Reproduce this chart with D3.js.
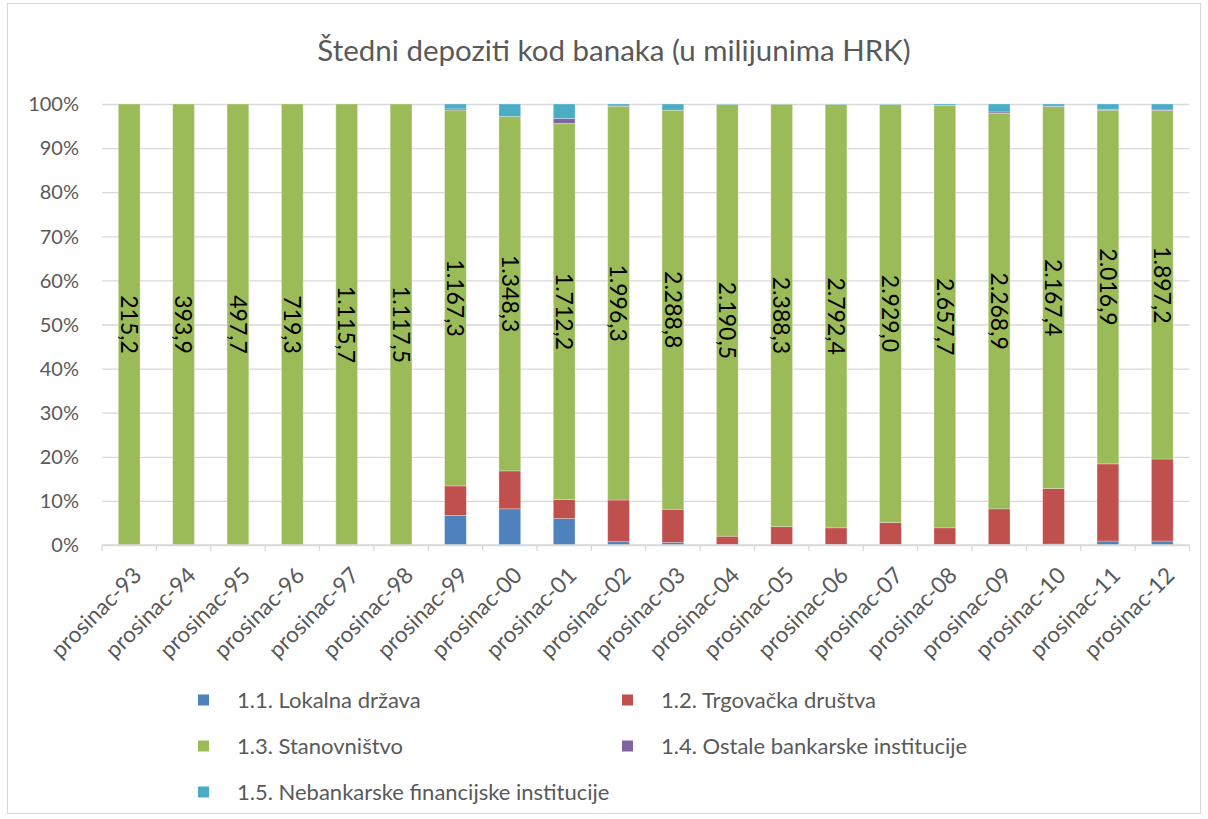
<html>

<head>
    <script src="https://d3js.org/d3.v7.min.js"></script>
    <style>
        body { margin: 0; background: #fff; }
        text { font-family: Lato, "Open Sans", sans-serif; }
    </style>
</head>

<body>
    <svg id="chart_svg" width="1208" height="819"></svg>
    <script>
        // categories (December of each year)
        const years = ["93", "94", "95", "96", "97", "98", "99", "00", "01", "02", "03", "04",
            "05", "06", "07", "08", "09", "10", "11", "12"];
        const categories = years.map(y => "prosinac-" + y);

        // series, millions HRK (green labels, the rest estimated from bar shares)
        const lokalnaDrzava = [0, 0, 0, 0, 0, 0, 91.8, 137.5, 120.4, 16.8, 15.2, 2.2, 2.5, 2.9, 3.1, 2.8, 2.5, 5.0, 22.6, 21.6];
        const trgovackaDrustva = [0, 0, 0, 0, 0, 0, 91.8, 144.2, 86.3, 211.3, 189.7, 42.5, 101.0, 110.5, 154.5, 105.4, 204.9, 315.4, 440.1, 446.7];
        const stanovnistvo = [215.2, 393.9, 497.7, 719.3, 1115.7, 1117.5, 1167.3, 1348.3, 1712.2, 1996.3, 2288.8, 2190.5,
            2388.3, 2792.4, 2929.0, 2657.7, 2268.9, 2167.4, 2016.9, 1897.2];
        const ostaleBankarske = [0, 0, 0, 0, 0, 0, 4.1, 0, 22.1, 1.1, 0, 0, 0, 0, 0, 0, 7.6, 2.5, 5.0, 3.6];
        const nebankarske = [0, 0, 0, 0, 0, 0, 15.1, 47.0, 66.2, 10.1, 35.4, 2.2, 1.2, 2.9, 3.1, 8.3, 45.5, 12.5, 30.2, 32.4];

        const seriesNames = ["1.1. Lokalna država", "1.2. Trgovačka društva", "1.3. Stanovništvo",
            "1.4. Ostale bankarske institucije", "1.5. Nebankarske financijske institucije"];
        const seriesColors = ["#4F81BD", "#C0504D", "#9BBB59", "#8064A2", "#4BACC6"];
        const yTicks = [0, 0.1, 0.2, 0.3, 0.4, 0.5, 0.6, 0.7, 0.8, 0.9, 1];

        const keys = ["s0", "s1", "s2", "s3", "s4"];
        const table = categories.map((c, i) => ({
            cat: c,
            s0: lokalnaDrzava[i],
            s1: trgovackaDrustva[i],
            s2: stanovnistvo[i],
            s3: ostaleBankarske[i],
            s4: nebankarske[i]
        }));

        const svg = d3.select("#chart_svg");
        const margins = { "top": 104, "right": 18.5, "bottom": 274, "left": 102 };
        const chartWidth = 1208 - margins.left - margins.right;
        const chartHeight = 819 - margins.top - margins.bottom;
        const grey = "#595959";

        // outer chart border
        svg.append("rect")
            .attr("x", 7.5).attr("y", 3.5)
            .attr("width", 1193).attr("height", 810)
            .attr("fill", "none")
            .attr("stroke", "#d9d9d9");

        svg.append("text")
            .attr("x", 614)
            .attr("y", 61)
            .attr("text-anchor", "middle")
            .attr("font-size", 29.5)
            .attr("fill", grey)
            .text("Štedni depoziti kod banaka (u milijunima HRK)");

        const xScale = d3.scaleBand().domain(categories).range([0, chartWidth]).paddingInner(0.6).paddingOuter(0.3);
        const yScale = d3.scaleLinear().domain([0, 1]).range([chartHeight, 0]);

        const plot = svg.append("g")
            .attr("transform", "translate(" + margins.left + "," + margins.top + ")");

        // gridlines
        plot.append("g")
            .attr("class", "y gridlines")
            .call(d3.axisLeft(yScale).tickValues(yTicks).tickSize(-chartWidth).tickFormat(""))
            .call(g => g.select(".domain").remove())
            .call(g => g.selectAll("line").attr("stroke", "#d9d9d9").attr("stroke-width", 1.3));

        // y labels
        const pct = d3.format(".0%");
        plot.append("g")
            .selectAll("text")
            .data(yTicks)
            .join("text")
            .attr("x", 79 - margins.left)
            .attr("y", d => yScale(d))
            .attr("dy", "0.36em")
            .attr("text-anchor", "end")
            .attr("font-size", 20)
            .attr("fill", grey)
            .text(d => pct(d));

        // stacked 100% bars
        const stacked = d3.stack().keys(keys).offset(d3.stackOffsetExpand)(table);
        stacked.forEach((layer, li) => {
            plot.append("g")
                .attr("fill", seriesColors[li])
                .selectAll("rect")
                .data(layer)
                .join("rect")
                .attr("x", d => xScale(d.data.cat))
                .attr("width", xScale.bandwidth())
                .attr("y", d => yScale(d[1]))
                .attr("height", d => yScale(d[0]) - yScale(d[1]))
                .attr("stroke", "#ffffff")
                .attr("stroke-opacity", 0.35)
                .attr("stroke-width", 0.8);
        });

        // x axis with ticks between categories
        const edges = d3.range(categories.length + 1).map(i => i * chartWidth / categories.length);
        const axisG = plot.append("g").attr("transform", "translate(0," + chartHeight + ")");
        axisG.append("line")
            .attr("x1", 0).attr("x2", chartWidth)
            .attr("stroke", "#d9d9d9").attr("stroke-width", 1.3);
        axisG.selectAll(".tick")
            .data(edges)
            .join("line")
            .attr("x1", d => d).attr("x2", d => d)
            .attr("y1", 0).attr("y2", 6)
            .attr("stroke", "#d9d9d9").attr("stroke-width", 1.3);
        axisG.selectAll("text")
            .data(categories)
            .join("text")
            .attr("text-anchor", "end")
            .attr("font-size", 22.5)
            .attr("fill", grey)
            .attr("transform", d => "translate(" + (xScale(d) + xScale.bandwidth() / 2 + 8) + ",26) rotate(-45)")
            .attr("dy", "0.36em")
            .text(d => d);

        // data labels of Stanovništvo
        const hr = d3.formatLocale({ decimal: ",", thousands: ".", grouping: [3], currency: ["", ""] });
        const fmt = hr.format(",.1f");
        plot.append("g")
            .selectAll("text")
            .data(stacked[2])
            .join("text")
            .attr("text-anchor", "middle")
            .attr("font-size", 23)
            .attr("fill", "#000")
            .attr("transform", d => "translate(" + (xScale(d.data.cat) + xScale.bandwidth() / 2) + "," + yScale((d[0] + d[1]) / 2) + ") rotate(90)")
            .attr("dy", "0.36em")
            .text(d => fmt(d.data.s2));

        // legend
        const legendPos = [[198, 700], [622, 700], [198, 746], [622, 746], [198, 792]];
        const legend = svg.append("g");
        seriesNames.forEach((name, i) => {
            const p = legendPos[i];
            legend.append("rect")
                .attr("x", p[0]).attr("y", p[1] - 5.5)
                .attr("width", 11).attr("height", 11)
                .attr("fill", seriesColors[i]);
            legend.append("text")
                .attr("x", p[0] + 39)
                .attr("y", p[1])
                .attr("dy", "0.36em")
                .attr("font-size", 22)
                .attr("fill", grey)
                .text(name);
        });
    </script>

</body>

</html>
